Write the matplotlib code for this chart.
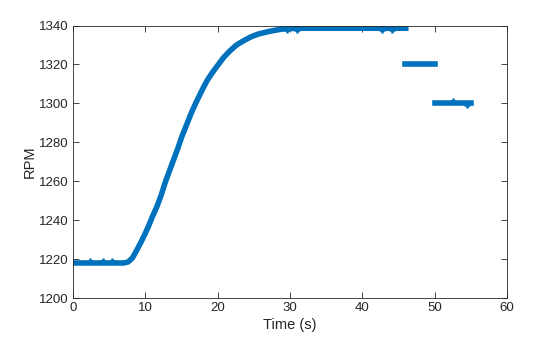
import numpy as np
import matplotlib
matplotlib.use('Agg')
import matplotlib.pyplot as plt

plt.rcParams['font.family'] = ['Liberation Sans', 'DejaVu Sans']

# spin-up: idle, ramp, hold
t_ramp = [0.0, 3.0, 7.0, 7.6, 8.2, 8.8, 9.3, 9.9, 10.4, 11.0, 11.6, 12.2, 12.7,
          13.3, 13.9, 14.5, 15.0, 15.7, 16.4, 17.1, 17.8, 18.5, 19.2, 19.9,
          20.8, 21.7, 22.6, 23.6, 24.6, 25.6, 26.8, 28.0, 29.0, 31.0, 35.0,
          40.0, 46.0]
rpm_ramp = [1218.0, 1218.0, 1218.0, 1218.5, 1220.5, 1224.5, 1228.0, 1232.5,
            1236.6, 1242.0, 1247.0, 1253.0, 1258.9, 1265.0, 1271.0, 1277.0,
            1282.5, 1289.0, 1295.5, 1301.2, 1306.5, 1311.5, 1315.5, 1319.0,
            1323.5, 1327.0, 1330.0, 1332.2, 1334.2, 1335.6, 1336.7, 1337.6,
            1338.2, 1338.6, 1338.6, 1338.6, 1338.6]

# step down holds
t_hold1 = [45.9, 50.0]
rpm_hold1 = [1320.0, 1320.0]
t_hold2 = [50.0, 55.0]
rpm_hold2 = [1300.0, 1300.0]

# isolated noisy samples
t_spike = [2.4, 4.1, 5.4, 29.6, 31.0, 38.6, 42.7, 44.1, 44.8, 45.5, 52.5, 54.5]
rpm_spike = [1219.0, 1219.0, 1219.0, 1337.8, 1337.8, 1339.2, 1337.8, 1337.8,
             1339.2, 1339.2, 1301.0, 1299.0]

blue = '#0072BD'

fig = plt.figure(figsize=(5.6, 3.37), dpi=100)
ax = fig.add_axes([0.1304, 0.1157, 0.775, 0.8086])

for t, r in [(t_ramp, rpm_ramp), (t_hold1, rpm_hold1), (t_hold2, rpm_hold2)]:
    ax.plot(t, r, '-', color=blue, lw=4.0, solid_capstyle='projecting',
            solid_joinstyle='round')
ax.plot(t_spike, rpm_spike, '+', color=blue, ms=5, mew=1.8)

ax.set_xlim(0, 60)
ax.set_ylim(1200, 1340)
ax.set_xticks(np.arange(0, 61, 10))
ax.set_yticks(np.arange(1200, 1341, 20))
ax.tick_params(direction='in', top=True, right=True, length=4, width=0.6,
               labelsize=9.5, colors='#262626', pad=3)
for s in ax.spines.values():
    s.set_linewidth(0.6)
    s.set_color('#262626')
ax.set_xlabel('Time (s)', fontsize=10.5, color='#262626', labelpad=3)
ax.set_ylabel('RPM', fontsize=10.5, color='#262626', labelpad=2)

fig.savefig('out.png', dpi=100)
